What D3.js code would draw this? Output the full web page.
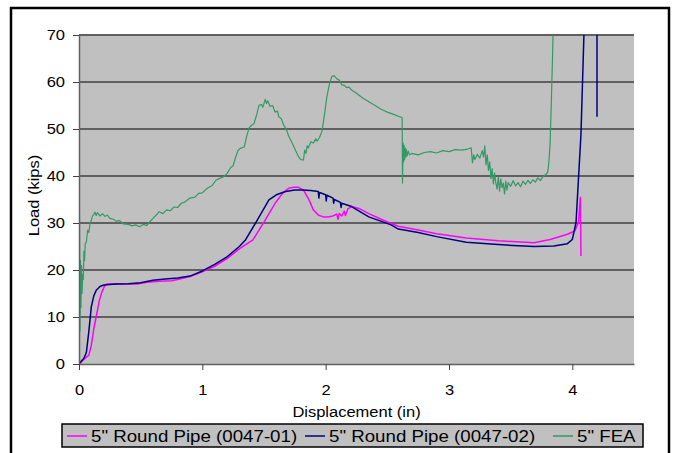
<!DOCTYPE html>
<html>
<head>
<meta charset="utf-8">
<script src="https://cdn.jsdelivr.net/npm/d3@7"></script>
<style>
  body { margin: 0; background: #fff; }
  svg { display: block; font-family: "Liberation Sans", Arial, sans-serif; }
</style>
</head>
<body>
<div id="chart"></div>
<script>
// Load vs displacement for 5" round pipe tests and FEA

const xTicks = [0, 1, 2, 3, 4];
const yTicks = [0, 10, 20, 30, 40, 50, 60, 70];
const seriesNames = ['5" Round Pipe (0047-01)', '5" Round Pipe (0047-02)', '5" FEA'];

const pipe01 = [
  [0, 0], [0.04, 1], [0.08, 1.9], [0.1, 4], [0.12, 7.5], [0.145, 10.8], [0.165, 13.5], [0.185, 15.3],
  [0.205, 16.5], [0.225, 17.0], [0.3, 17.1], [0.4, 17.0], [0.47, 17.0], [0.55, 17.4], [0.65, 17.6],
  [0.75, 17.7], [0.8, 18.0], [0.9, 18.6], [1.0, 19.6], [1.1, 20.8], [1.2, 22.4], [1.3, 24.5],
  [1.41, 26.4], [1.5, 30.2], [1.59, 34.2], [1.65, 36.3], [1.7, 37.4], [1.74, 37.6], [1.78, 37.6],
  [1.82, 37.0], [1.86, 35.2], [1.9, 32.8], [1.94, 31.7], [1.98, 31.3], [2.02, 31.3], [2.06, 31.5],
  [2.09, 31.9], [2.1, 30.8], [2.11, 32.0], [2.13, 31.5], [2.15, 32.5], [2.16, 31.6], [2.18, 33.0],
  [2.21, 33.5], [2.27, 33.1], [2.35, 32.0], [2.45, 30.8], [2.53, 29.9], [2.59, 29.3], [2.75, 28.5],
  [2.9, 27.7], [3.14, 26.8], [3.4, 26.2], [3.69, 25.8], [3.82, 26.5], [3.96, 27.6], [4.02, 28.3],
  [4.05, 30.1], [4.065, 35.4], [4.07, 23.0]
];

const pipe02 = [
  [0, 0], [0.04, 1.2], [0.06, 2.5], [0.08, 7], [0.1, 12.2], [0.12, 14.5], [0.14, 15.7], [0.17, 16.5],
  [0.2, 16.8], [0.3, 17.0], [0.4, 17.1], [0.5, 17.3], [0.6, 17.8], [0.7, 18.1], [0.8, 18.3],
  [0.9, 18.7], [1.0, 19.8], [1.1, 21.2], [1.2, 22.8], [1.3, 25.0], [1.35, 26.4], [1.45, 30.8],
  [1.54, 34.9], [1.6, 36.0], [1.675, 36.7], [1.75, 37.0], [1.81, 37.0], [1.88, 36.9], [1.94, 36.7],
  [1.945, 35.3], [1.95, 36.5], [2.0, 36.0], [2.005, 34.7], [2.01, 35.9], [2.06, 35.3], [2.065, 34.2],
  [2.07, 35.0], [2.12, 34.4], [2.125, 33.3], [2.13, 34.2], [2.21, 33.5], [2.35, 31.3], [2.53, 29.6],
  [2.59, 28.7], [2.75, 28.0], [2.9, 27.1], [3.14, 25.9], [3.4, 25.4], [3.69, 25.0], [3.85, 25.1],
  [3.96, 25.6], [4.0, 26.5], [4.03, 30.1], [4.07, 48.9], [4.094, 70], [4.12, 85], [4.2, 90], [4.2, 52.6]
];

const fea = [
  [0, 0], [0.003, 35.5], [0.008, 7], [0.012, 22], [0.016, 12], [0.02, 21], [0.025, 15], [0.03, 19],
  [0.035, 18], [0.04, 24], [0.045, 22], [0.05, 25.5], [0.06, 26], [0.07, 28.5], [0.08, 28], [0.09, 30],
  [0.1, 30.6], [0.11, 31.5], [0.12, 31.8], [0.13, 32.3], [0.14, 31.6], [0.15, 32.2], [0.17, 31.5],
  [0.19, 32.0], [0.21, 31.4], [0.23, 31.7], [0.25, 31.0], [0.28, 30.8], [0.3, 30.4], [0.33, 30.5],
  [0.36, 29.8], [0.4, 29.7], [0.43, 29.4], [0.46, 29.6], [0.49, 29.2], [0.52, 29.7], [0.55, 29.5],
  [0.58, 30.4], [0.6, 31], [0.63, 31.8], [0.65, 32.4], [0.68, 32.0], [0.71, 32.8], [0.74, 32.6],
  [0.77, 33.4], [0.8, 33.3], [0.83, 34.2], [0.86, 34.5], [0.9, 35.3], [0.94, 35.5], [0.97, 36.3],
  [1.0, 36.4], [1.04, 37.4], [1.08, 38.0], [1.11, 39.1], [1.14, 39.5], [1.17, 39.8], [1.2, 40.5],
  [1.23, 41.8], [1.25, 42.2], [1.27, 44.0], [1.29, 45.5], [1.31, 45.9], [1.34, 46.2], [1.36, 48.5],
  [1.38, 50.3], [1.4, 50.8], [1.42, 51.2], [1.44, 53], [1.46, 55.1], [1.48, 55.2], [1.49, 54.6],
  [1.51, 56.3], [1.52, 55.4], [1.53, 56.0], [1.55, 54.8], [1.57, 55.0], [1.59, 53.6], [1.61, 53.8],
  [1.62, 52.6], [1.64, 52.2], [1.66, 50.8], [1.68, 50.0], [1.7, 48.5], [1.73, 46.9], [1.76, 45.2],
  [1.78, 44.1], [1.8, 43.5], [1.82, 43.4], [1.83, 45.5], [1.84, 44.8], [1.85, 46.4], [1.86, 46.0],
  [1.88, 47.3], [1.9, 47.0], [1.92, 47.9], [1.93, 47.4], [1.95, 48.2], [1.97, 49.5], [1.99, 53.0],
  [2.01, 56.9], [2.03, 59.5], [2.05, 61.2], [2.07, 61.3], [2.09, 60.7], [2.11, 60.4], [2.13, 59.4],
  [2.15, 59.3], [2.17, 58.8], [2.19, 58.9], [2.21, 58.3], [2.25, 57.6], [2.3, 56.6], [2.35, 55.8],
  [2.4, 55.0], [2.45, 54.2], [2.5, 53.6], [2.55, 53.1], [2.6, 52.6], [2.62, 52.4], [2.623, 38.5],
  [2.628, 47], [2.632, 43], [2.636, 46.5], [2.64, 43.5], [2.645, 46], [2.65, 44], [2.655, 45.6],
  [2.66, 44.3], [2.67, 45.3], [2.68, 44.5], [2.7, 44.8], [2.75, 44.5], [2.8, 45.0], [2.85, 45.2],
  [2.9, 44.9], [2.95, 45.4], [3.0, 45.2], [3.05, 45.6], [3.1, 45.5], [3.15, 45.7], [3.18, 46.0],
  [3.19, 42.8], [3.2, 44.5], [3.21, 43.5], [3.23, 44.6], [3.25, 43.8], [3.27, 45.4], [3.28, 44],
  [3.29, 46.4], [3.3, 42.4], [3.31, 44.5], [3.32, 41.2], [3.33, 43.0], [3.34, 39.5], [3.35, 41.6],
  [3.36, 38.3], [3.37, 40.6], [3.38, 38.5], [3.39, 37.2], [3.4, 39.8], [3.41, 36.8], [3.42, 39.4],
  [3.43, 37.5], [3.44, 38.5], [3.45, 36.2], [3.46, 38.9], [3.47, 37.0], [3.48, 38.6], [3.5, 37.8],
  [3.52, 39.0], [3.54, 37.9], [3.56, 38.6], [3.58, 37.7], [3.6, 38.9], [3.62, 38.2], [3.64, 39.1],
  [3.66, 38.4], [3.68, 39.2], [3.7, 38.7], [3.72, 39.6], [3.74, 39.0], [3.76, 39.8], [3.78, 40.2],
  [3.8, 40.8], [3.81, 43], [3.82, 47], [3.83, 56], [3.84, 66], [3.845, 72]
];

const seriesData = [pipe01, pipe02, fea];
const seriesColors = ['#ff00ff', '#000080', '#339966'];
const seriesWidths = [1.5, 1.5, 1.2];

const W = 674, H = 453;
const PLOT = { left: 79, top: 35, right: 634, bottom: 364 };
const STRETCH = 1.1; // text looks horizontally stretched in the original

const svg = d3.select('#chart').append('svg')
  .attr('width', W)
  .attr('height', H);

// outer frame
svg.append('rect')
  .attr('x', 11).attr('y', 8)
  .attr('width', 658).attr('height', 460)
  .attr('fill', '#fff')
  .attr('stroke', '#000')
  .attr('stroke-width', 2.5);

const x = d3.scaleLinear().domain([0, 4.5]).range([PLOT.left, PLOT.right]);
const y = d3.scaleLinear().domain([0, 70]).range([PLOT.bottom, PLOT.top]);

svg.append('rect')
  .attr('x', PLOT.left).attr('y', PLOT.top)
  .attr('width', PLOT.right - PLOT.left).attr('height', PLOT.bottom - PLOT.top)
  .attr('fill', '#c0c0c0');

// gridlines
svg.append('g')
  .selectAll('line')
  .data(yTicks.filter(d => d > 0))
  .enter().append('line')
  .attr('x1', PLOT.left).attr('x2', PLOT.right)
  .attr('y1', d => y(d)).attr('y2', d => y(d))
  .attr('stroke', '#606060')
  .attr('stroke-width', 2);

svg.append('defs').append('clipPath').attr('id', 'plotClip')
  .append('rect')
  .attr('x', PLOT.left).attr('y', PLOT.top)
  .attr('width', PLOT.right - PLOT.left).attr('height', PLOT.bottom - PLOT.top);

const line = d3.line().x(d => x(d[0])).y(d => y(d[1]));

const lines = svg.append('g').attr('clip-path', 'url(#plotClip)');
seriesData.forEach((data, i) => {
  lines.append('path')
    .datum(data)
    .attr('d', line)
    .attr('fill', 'none')
    .attr('stroke', seriesColors[i])
    .attr('stroke-width', seriesWidths[i])
    .attr('stroke-linejoin', 'round');
});

// axes
const yAxis = d3.axisLeft(y).tickValues(yTicks).tickFormat(d3.format('d'))
  .tickSize(6).tickSizeOuter(0).tickPadding(9);
const gy = svg.append('g').attr('transform', `translate(${PLOT.left},0)`).call(yAxis);

const xAxis = d3.axisBottom(x).tickValues(xTicks).tickFormat(d3.format('d'))
  .tickSize(6).tickSizeOuter(0).tickPadding(14);
const gx = svg.append('g').attr('transform', `translate(0,${PLOT.bottom})`).call(xAxis);

[gx, gy].forEach(g => {
  g.select('.domain').attr('stroke', '#606060').attr('stroke-width', 1.5);
  g.selectAll('.tick line').attr('stroke', '#404040').attr('stroke-width', 1);
  g.selectAll('.tick text')
    .attr('fill', '#000')
    .style('font-size', '15px')
    .style('font-family', '"Liberation Sans", Arial, sans-serif')
    .attr('transform', `scale(${STRETCH},1)`);
});
gx.selectAll('.tick text').attr('dy', '0.71em');
gy.selectAll('.tick text').attr('x', -14 / STRETCH);

// axis titles
svg.append('text')
  .attr('transform', `translate(${(PLOT.left + PLOT.right) / 2},417) scale(${STRETCH},1)`)
  .attr('text-anchor', 'middle')
  .style('font-size', '15px')
  .text('Displacement (in)');

svg.append('text')
  .attr('transform', `translate(39,${(PLOT.top + PLOT.bottom) / 2 - 4}) rotate(-90) scale(${STRETCH},1)`)
  .attr('text-anchor', 'middle')
  .style('font-size', '15px')
  .text('Load (kips)');

// legend
const legend = svg.append('g');
legend.append('rect')
  .attr('x', 62).attr('y', 424)
  .attr('width', 581).attr('height', 23)
  .attr('fill', '#c0c0c0')
  .attr('stroke', '#000')
  .attr('stroke-width', 1.5);

const legendX = [67, 305, 553];
seriesNames.forEach((name, i) => {
  const lx = legendX[i];
  legend.append('line')
    .attr('x1', lx).attr('x2', lx + 20)
    .attr('y1', 436).attr('y2', 436)
    .attr('stroke', seriesColors[i])
    .attr('stroke-width', 1.5);
  legend.append('text')
    .attr('transform', `translate(${lx + 24},442) scale(${STRETCH},1)`)
    .style('font-size', '17px')
    .text(name);
});
</script>
</body>
</html>
